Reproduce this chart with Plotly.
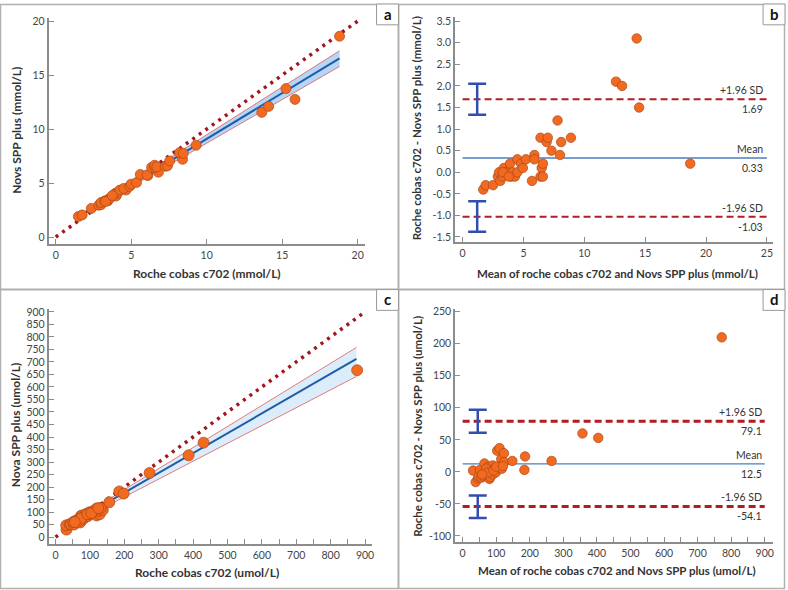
import plotly.graph_objects as go

# ---------------- data ----------------
# Panel a: Roche cobas c702 vs Nova SPP plus (mmol/L)
a_roche = [1.5, 1.75, 2.35, 2.85, 3.0, 3.0, 3.25, 3.45, 3.5, 3.6, 3.9, 4.0, 3.95, 4.1, 4.25,
           4.65, 4.5, 4.9, 5.0, 5.35, 5.6, 6.1, 6.05, 6.8, 6.35, 6.55, 6.55, 6.7, 7.25, 7.4,
           7.55, 8.4, 8.2, 8.45, 9.3, 13.65, 14.1, 15.85, 15.25, 18.8, 3.3, 3.75]
a_nova = [1.9, 2.05, 2.65, 2.95, 3.0, 3.2, 3.35, 3.35, 3.5, 3.6, 3.9, 3.8, 4.05, 4.1, 4.35,
          4.35, 4.5, 4.7, 4.9, 5.05, 5.8, 5.7, 5.75, 6.0, 6.45, 6.45, 6.65, 6.5, 6.55, 6.6,
          7.05, 7.2, 7.8, 7.75, 8.5, 11.55, 12.1, 12.75, 13.75, 18.6, 3.3, 3.85]
a_fit_x = [1.5, 18.8]
a_fit_y = [1.9, 16.55]
a_ci_upper = [1.97, 17.25]
a_ci_lower = [1.83, 15.8]
a_identity = [0, 20]

# Panel b: Bland-Altman (mmol/L)
b_mean = [1.7, 1.9, 2.5, 2.9, 3.0, 3.1, 3.3, 3.4, 3.5, 3.6, 3.9, 3.9, 4.0, 4.1, 4.3,
          4.5, 4.5, 4.8, 4.95, 5.2, 5.7, 5.9, 5.9, 6.4, 6.4, 6.5, 6.6, 6.6, 6.9, 7.0,
          7.3, 7.8, 8.0, 8.1, 8.9, 12.6, 13.1, 14.3, 14.5, 18.7, 3.3, 3.8]
b_diff = [-0.4, -0.3, -0.3, -0.1, 0.0, -0.2, -0.1, 0.1, 0.0, 0.0, 0.0, 0.2, -0.1, 0.0, -0.1,
          0.3, 0.0, 0.2, 0.1, 0.3, -0.2, 0.4, 0.3, 0.8, -0.1, 0.1, -0.1, 0.2, 0.7, 0.8,
          0.5, 1.2, 0.4, 0.7, 0.8, 2.1, 2.0, 3.1, 1.5, 0.2, 0.0, -0.1]
b_bias = 0.33
b_upper_loa = 1.69
b_lower_loa = -1.03
b_upper_ci = [1.33, 2.05]
b_lower_ci = [-1.38, -0.67]
b_ci_x = 1.2
b_line_x = [0, 25]

# Panel c: Roche cobas c702 vs Nova SPP plus (umol/L)
c_roche = [32, 31, 41, 44.5, 53.5, 51.5, 58.5, 71.5, 67, 69.5, 79, 81, 74.5, 78, 85, 94, 88,
           98, 98.5, 119.5, 110, 128.5, 118.5, 125, 119.5, 137.5, 131.5, 156.5, 185.5, 198,
           273.5, 387, 430.5, 877, 72.5, 74.5, 93, 104, 124.5, 56]
c_nova = [30, 47, 51, 51.5, 50.5, 60.5, 65.5, 58.5, 69, 74.5, 75, 73, 85.5, 86, 85, 84, 92,
          92, 99.5, 86.5, 104, 91.5, 107.5, 105, 114.5, 108.5, 116.5, 139.5, 182.5, 174,
          256.5, 327, 377.5, 667, 67.5, 75.5, 91, 96, 115.5, 60]
c_fit_x = [31, 875]
c_fit_y = [43.7, 712]
c_ci_upper = [47, 758]
c_ci_lower = [40, 642]
c_identity = [0, 900]

# Panel d: Bland-Altman (umol/L)
d_mean = [31, 39, 46, 48, 52, 56, 62, 65, 68, 72, 77, 77, 80, 82, 85, 89, 90, 95, 99, 103,
          107, 110, 113, 115, 117, 123, 124, 148, 184, 186, 265, 357, 404, 772, 70, 75, 92,
          100, 120, 58]
d_diff = [2, -16, -10, -7, 3, -9, -7, 13, -2, -5, 4, 8, -11, -8, 0, 10, -4, 6, -1, 33,
          6, 37, 11, 20, 5, 29, 15, 17, 3, 24, 17, 60, 53, 210, 5, -1, 2,
          8, 9, -4]
d_bias = 12.5
d_upper_loa = 79.1
d_lower_loa = -54.1
d_upper_ci = [61, 97]
d_lower_ci = [-72, -37]
d_ci_x = 45
d_line_x = [0, 900]

# ---------------- styles ----------------
FONT = "Lato"
AXIS_COL = "#8c8c8c"
TXT = "#454545"
ORANGE = "#F26A1F"
ORANGE_EDGE = "#A94717"
DOT_RED = "#A3161E"
FIT_BLUE = "#1F5CA8"
LOA_RED = "#B01E22"
MEAN_BLUE = "#4A7EBF"
ERR_BLUE = "#2F4EAE"
W, H = 788, 590

fig = go.Figure()


def add_method_panel(xa, ya, xr, yn, fx, fy, cu, cl, ident, fill, msize):
    fig.add_trace(go.Scatter(x=fx, y=cl, mode="lines", line=dict(color="#E05A5A", width=0.8),
                             xaxis=xa, yaxis=ya, showlegend=False, hoverinfo="skip"))
    fig.add_trace(go.Scatter(x=fx, y=cu, mode="lines", line=dict(color="#E05A5A", width=0.8),
                             fill="tonexty", fillcolor=fill,
                             xaxis=xa, yaxis=ya, showlegend=False, hoverinfo="skip"))
    fig.add_trace(go.Scatter(x=fx, y=fy, mode="lines", line=dict(color=FIT_BLUE, width=2),
                             xaxis=xa, yaxis=ya, showlegend=False))
    fig.add_trace(go.Scatter(x=ident, y=ident, mode="lines",
                             line=dict(color=DOT_RED, width=3.5, dash="3px,5px"),
                             xaxis=xa, yaxis=ya, showlegend=False))
    fig.add_trace(go.Scatter(x=xr, y=yn, mode="markers",
                             marker=dict(color=ORANGE, size=msize,
                                         line=dict(color=ORANGE_EDGE, width=0.7)),
                             xaxis=xa, yaxis=ya, showlegend=False))


def add_ba_panel(xa, ya, m, d, bias, up, lo, upci, loci, cix, lx, dashw):
    fig.add_trace(go.Scatter(x=lx, y=[up, up], mode="lines",
                             line=dict(color=LOA_RED, width=dashw, dash="7px,4px"),
                             xaxis=xa, yaxis=ya, showlegend=False))
    fig.add_trace(go.Scatter(x=lx, y=[lo, lo], mode="lines",
                             line=dict(color=LOA_RED, width=dashw, dash="7px,4px"),
                             xaxis=xa, yaxis=ya, showlegend=False))
    fig.add_trace(go.Scatter(x=lx, y=[bias, bias], mode="lines",
                             line=dict(color=MEAN_BLUE, width=1.3),
                             xaxis=xa, yaxis=ya, showlegend=False))
    cen = [(upci[0] + upci[1]) / 2, (loci[0] + loci[1]) / 2]
    fig.add_trace(go.Scatter(x=[cix, cix], y=cen, mode="markers",
                             marker=dict(size=1, color="rgba(0,0,0,0)"),
                             error_y=dict(type="data", symmetric=False,
                                          array=[upci[1] - cen[0], loci[1] - cen[1]],
                                          arrayminus=[cen[0] - upci[0], cen[1] - loci[0]],
                                          color=ERR_BLUE, thickness=2.5, width=9),
                             xaxis=xa, yaxis=ya, showlegend=False, hoverinfo="skip"))
    fig.add_trace(go.Scatter(x=m, y=d, mode="markers",
                             marker=dict(color=ORANGE, size=9.5,
                                         line=dict(color=ORANGE_EDGE, width=0.7)),
                             xaxis=xa, yaxis=ya, showlegend=False))


add_method_panel("x", "y", a_roche, a_nova, a_fit_x, a_fit_y, a_ci_upper, a_ci_lower,
                 a_identity, "rgba(120,180,235,0.55)", 10)
add_ba_panel("x2", "y2", b_mean, b_diff, b_bias, b_upper_loa, b_lower_loa,
             b_upper_ci, b_lower_ci, b_ci_x, b_line_x, 2)
add_method_panel("x3", "y3", c_roche, c_nova, c_fit_x, c_fit_y, c_ci_upper, c_ci_lower,
                 c_identity, "rgba(190,220,245,0.55)", 11)
add_ba_panel("x4", "y4", d_mean, d_diff, d_bias, d_upper_loa, d_lower_loa,
             d_upper_ci, d_lower_ci, d_ci_x, d_line_x, 3)


def ax(domain, rng, anchor, **kw):
    base = dict(domain=domain, range=rng, anchor=anchor, showline=True, linecolor=AXIS_COL,
                linewidth=2, ticks="inside", tickcolor=AXIS_COL, ticklen=5, tickwidth=1.2,
                showgrid=False, zeroline=False,
                tickfont=dict(family=FONT, size=10.5, color=TXT))
    base.update(kw)
    return base


def px_x(p0, p1):
    return [p0 / W, p1 / W]


def px_y(top, bottom):
    return [1 - bottom / H, 1 - top / H]


b_yticks = [-1.5, -1.0, -0.5, 0.0, 0.5, 1.0, 1.5, 2.0, 2.5, 3.0, 3.5]
d_yticks = [-100, -50, 0, 50, 100, 150, 200, 250]
minor_x = dict(tickvals=list(range(50, 900, 100)), ticks="inside", ticklen=5,
               tickcolor=AXIS_COL, tickwidth=1.2)

fig.update_layout(
    width=W, height=H, margin=dict(l=0, r=0, t=0, b=0),
    paper_bgcolor="white", plot_bgcolor="white",
    font=dict(family=FONT, color=TXT),
    xaxis=ax(px_x(49, 366), [-0.46, 20.46], "y", tickvals=[0, 5, 10, 15, 20]),
    yaxis=ax(px_y(14, 242), [-0.64, 20.3], "x", tickvals=[0, 5, 10, 15, 20]),
    xaxis2=ax(px_x(457, 776), [-0.6, 25.5], "y2", tickvals=[0, 5, 10, 15, 20, 25]),
    yaxis2=ax(px_y(13, 240), [-1.615, 3.6], "x2", tickvals=b_yticks,
              ticktext=["%.1f" % v for v in b_yticks]),
    xaxis3=ax(px_x(49, 373), [-19.5, 919], "y3", tickvals=list(range(0, 1000, 100)),
              minor=minor_x),
    yaxis3=ax(px_y(308, 545), [-29, 910], "x3", tickvals=list(range(0, 950, 50))),
    xaxis4=ax(px_x(457, 776), [-22, 924.8], "y4", tickvals=list(range(0, 1000, 100)),
              minor=minor_x),
    yaxis4=ax(px_y(308, 543), [-110.2, 253.7], "x4", tickvals=d_yticks,
              ticktext=[str(v) for v in d_yticks]),
)

# frame, dividers, letter boxes
shapes = [
    dict(type="rect", xref="paper", yref="paper", x0=0.5 / W, x1=1 - 0.5 / W, y0=0.5 / H,
         y1=1 - 0.5 / H, line=dict(color="#b0b0b0", width=1.5)),
    dict(type="line", xref="paper", yref="paper", x0=400 / W, x1=400 / W, y0=0, y1=1,
         line=dict(color="#b0b0b0", width=2)),
    dict(type="line", xref="paper", yref="paper", x0=0, x1=1, y0=1 - 288 / H, y1=1 - 288 / H,
         line=dict(color="#b0b0b0", width=2)),
]
for (bx0, bx1, by0, by1) in [(378, 400, 0, 21), (766, 788, 0, 21), (378, 400, 288, 309),
                             (766, 788, 288, 309)]:
    shapes.append(dict(type="rect", xref="paper", yref="paper", x0=bx0 / W, x1=bx1 / W,
                       y0=1 - by1 / H, y1=1 - by0 / H, line=dict(color="#9a9a9a", width=1),
                       fillcolor="white"))
fig.update_layout(shapes=shapes)

ann = []
for letter, cx, cy in [("a", 389, 10), ("b", 777, 10), ("c", 389, 298), ("d", 777, 298)]:
    ann.append(dict(text="<b>%s</b>" % letter, x=cx / W, y=1 - cy / H, xref="paper",
                    yref="paper", showarrow=False, font=dict(family=FONT, size=15, color="#111"),
                    xanchor="center", yanchor="middle"))

titles = [
    ("Roche cobas c702 (mmol/L)", 208, 272, 0, 12),
    ("Novs SPP plus (mmol/L)", 17, 127, -90, 12),
    ("Mean of roche cobas c702 and Novs SPP plus (mmol/L)", 620, 272, 0, 11.5),
    ("Roche cobas c702 - Novs SPP plus (mmol/L)", 419, 125, -90, 11.5),
    ("Roche cobas c702 (umol/L)", 208, 573, 0, 12),
    ("Nova SPP plus (umol/L)", 15, 424, -90, 12),
    ("Mean of roche cobas c702 and Novs SPP plus (umol/L)", 619, 571, 0, 11.5),
    ("Roche cobas c702 - Novs SPP plus (umol/L)", 419, 426, -90, 11.5),
]
for t, cx, cy, ang, fs in titles:
    ann.append(dict(text="<b>%s</b>" % t, x=cx / W, y=1 - cy / H, xref="paper", yref="paper",
                    showarrow=False, font=dict(family=FONT, size=fs, color="#333"),
                    textangle=ang, xanchor="center", yanchor="middle"))

LF = dict(family=FONT, size=10.5, color="#333")
for xa, ya, xr, up, bias, lo, fmt in [("x2", "y2", 24.8, b_upper_loa, b_bias, b_lower_loa, "%.2f"),
                                       ("x4", "y4", 898, d_upper_loa, d_bias, d_lower_loa, "%.1f")]:
    for val, label in [(up, "+1.96 SD"), (bias, "Mean"), (lo, "-1.96 SD")]:
        ann.append(dict(text=label, x=xr, y=val, xref=xa, yref=ya, showarrow=False, font=LF,
                        xanchor="right", yanchor="bottom", yshift=1))
        ann.append(dict(text=fmt % val, x=xr, y=val, xref=xa, yref=ya, showarrow=False,
                        font=LF, xanchor="right", yanchor="top", yshift=-2))
fig.update_layout(annotations=ann)

fig.write_html("out.html")
